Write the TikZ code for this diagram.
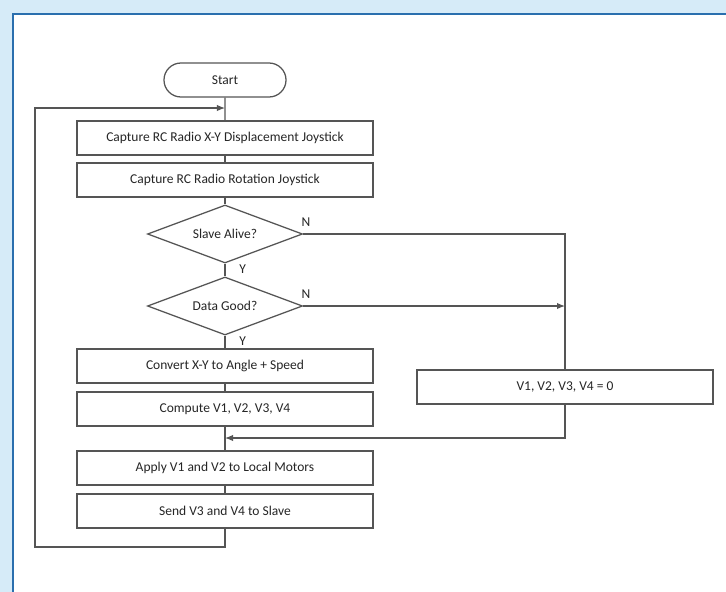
\documentclass[tikz,border=0pt]{standalone}
\usepackage{fontspec}
\setmainfont{Carlito}
\usepackage{tikz}
\usetikzlibrary{arrows.meta,shapes.geometric,shapes.misc}

\definecolor{pagebg}{HTML}{D6EBF8}
\definecolor{panelline}{HTML}{2A6FAE}
\definecolor{flowline}{HTML}{555555}
\definecolor{flowtext}{HTML}{262626}

\tikzset{
  flow/.style={draw=flowline,line width=0.9pt},
  flowfont/.style={font=\fontsize{9.6}{11}\selectfont,text=flowtext},
  stepbox/.style={flow,flowfont,fill=white,rectangle,minimum width=7.4cm,minimum height=0.85cm,inner sep=0pt},
  startbox/.style={flow,flowfont,fill=white,rounded rectangle,minimum width=3.05cm,minimum height=0.85cm,inner sep=0pt},
  testbox/.style={flow,flowfont,fill=white,diamond,aspect=3,minimum width=3.875cm,minimum height=1.45cm,inner sep=0pt},
  yn/.style={flowfont,inner sep=1pt}
}

\begin{document}
\begin{tikzpicture}[x=0.025cm,y=-0.025cm]
  % page and panel
  \fill[pagebg] (0,0) rectangle (726,592);
  \useasboundingbox (0,0) rectangle (726,592);
  \fill[white] (13,14) rectangle (726,592);
  \draw[panelline,line width=1.1pt] (726,14) -- (13,14) -- (13,592);

  % main column
  \node[startbox] (start) at (225,80) {Start};
  \node[stepbox] (capxy) at (225,138) {Capture RC Radio X-Y Displacement Joystick};
  \node[stepbox] (caprot) at (225,180) {Capture RC Radio Rotation Joystick};
  \node[testbox] (alive) at (225,234) {Slave Alive?};
  \node[testbox] (good) at (225,306) {Data Good?};
  \node[stepbox] (convert) at (225,366) {Convert X-Y to Angle + Speed};
  \node[stepbox] (compute) at (225,409) {Compute V1, V2, V3, V4};
  \node[stepbox] (apply) at (225,468) {Apply V1 and V2 to Local Motors};
  \node[stepbox] (send) at (225,511) {Send V3 and V4 to Slave};

  % side branch
  \node[stepbox] (zero) at (565,387) {V1, V2, V3, V4 = 0};

  \coordinate (loopin) at (225,108);
  \coordinate (loopend) at (225,547);
  \coordinate (merge) at (225,438);

  \draw[flow] (start) -- (capxy);
  \draw[flow] (capxy) -- (caprot);
  \draw[flow] (caprot) -- (alive);
  \draw[flow] (alive) -- (good);
  \draw[flow] (good) -- (convert);
  \draw[flow] (convert) -- (compute);
  \draw[flow] (compute) -- (apply);
  \draw[flow] (apply) -- (send);

  \draw[flow,-{Latex[length=2mm,width=1.6mm]}] (send) -- (loopend) -| (35,108) -- (loopin);
  \draw[flow] (alive.east) -| (zero.north);
  \draw[flow,-{Latex[length=2mm,width=1.6mm]}] (good.east) -- (good.east -| zero.north);
  \draw[flow,-{Latex[length=2mm,width=1.6mm]}] (zero.south) |- (merge);

  \node[yn,anchor=south,yshift=4pt,xshift=2pt] at (alive.east) {N};
  \node[yn,anchor=south,yshift=4pt,xshift=2pt] at (good.east) {N};
  \node[yn,anchor=north west,xshift=9pt] at (alive.south) {Y};
  \node[yn,anchor=north west,xshift=9pt] at (good.south) {Y};
\end{tikzpicture}
\end{document}
